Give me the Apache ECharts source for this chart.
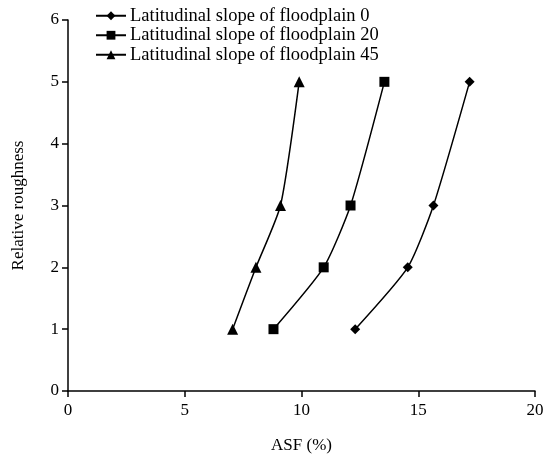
<!DOCTYPE html>
<html>
<head>
<meta charset="utf-8">
<script src="https://cdn.jsdelivr.net/npm/echarts@6/dist/echarts.min.js"></script>
<style>html,body{margin:0;padding:0;background:#fff}#c{width:547px;height:464px}</style>
</head>
<body>
<div id="c"></div>
<script>
var yValues = [1, 2, 3, 5];
var slope0 = [12.3, 14.55, 15.65, 17.2];
var slope20 = [8.8, 10.95, 12.1, 13.55];
var slope45 = [7.05, 8.05, 9.1, 9.9];
var seriesNames = ['Latitudinal slope of floodplain 0', 'Latitudinal slope of floodplain 20', 'Latitudinal slope of floodplain 45'];
var font = 'Liberation Serif';

function pairs(xs) { return xs.map(function (x, i) { return [x, yValues[i]]; }); }

var chart = echarts.init(document.getElementById('c'));
chart.setOption({
  animation: false,
  backgroundColor: '#fff',
  grid: { left: 68, right: 12, top: 20, bottom: 73 },
  legend: {
    orient: 'vertical', left: 95, top: 6, padding: 0, itemGap: 0, itemWidth: 30, itemHeight: 11,
    textStyle: { fontFamily: font, fontSize: 18.5, lineHeight: 19.5, color: '#000', padding: [0, 0, 0, -1] },
    data: seriesNames
  },
  xAxis: {
    type: 'value', min: 0, max: 20, interval: 5,
    name: 'ASF (%)', nameLocation: 'middle', nameGap: 46,
    nameTextStyle: { fontFamily: font, fontSize: 17, color: '#000' },
    axisLine: { lineStyle: { color: '#000', width: 1.5 } },
    axisTick: { inside: false, length: 6, lineStyle: { color: '#000', width: 1.5 } },
    axisLabel: { fontFamily: font, fontSize: 17, color: '#000', margin: 11 },
    splitLine: { show: false }
  },
  yAxis: {
    type: 'value', min: 0, max: 6, interval: 1,
    name: 'Relative roughness', nameLocation: 'middle', nameGap: 41, nameRotate: 90,
    nameTextStyle: { fontFamily: font, fontSize: 17, color: '#000' },
    axisLine: { lineStyle: { color: '#000', width: 1.5 } },
    axisTick: { inside: false, length: 6, lineStyle: { color: '#000', width: 1.5 } },
    axisLabel: { fontFamily: font, fontSize: 17, color: '#000', margin: 9 },
    splitLine: { show: false }
  },
  series: [
    { name: seriesNames[0], type: 'line', data: pairs(slope0), symbol: 'diamond', symbolSize: 10, smooth: 0.2,
      itemStyle: { color: '#000' }, lineStyle: { color: '#000', width: 1.5 } },
    { name: seriesNames[1], type: 'line', data: pairs(slope20), symbol: 'rect', symbolSize: 10, smooth: 0.2,
      itemStyle: { color: '#000' }, lineStyle: { color: '#000', width: 1.5 } },
    { name: seriesNames[2], type: 'line', data: pairs(slope45), symbol: 'triangle', symbolSize: 11, smooth: 0.2,
      itemStyle: { color: '#000' }, lineStyle: { color: '#000', width: 1.5 } }
  ]
});
</script>
</body>
</html>
